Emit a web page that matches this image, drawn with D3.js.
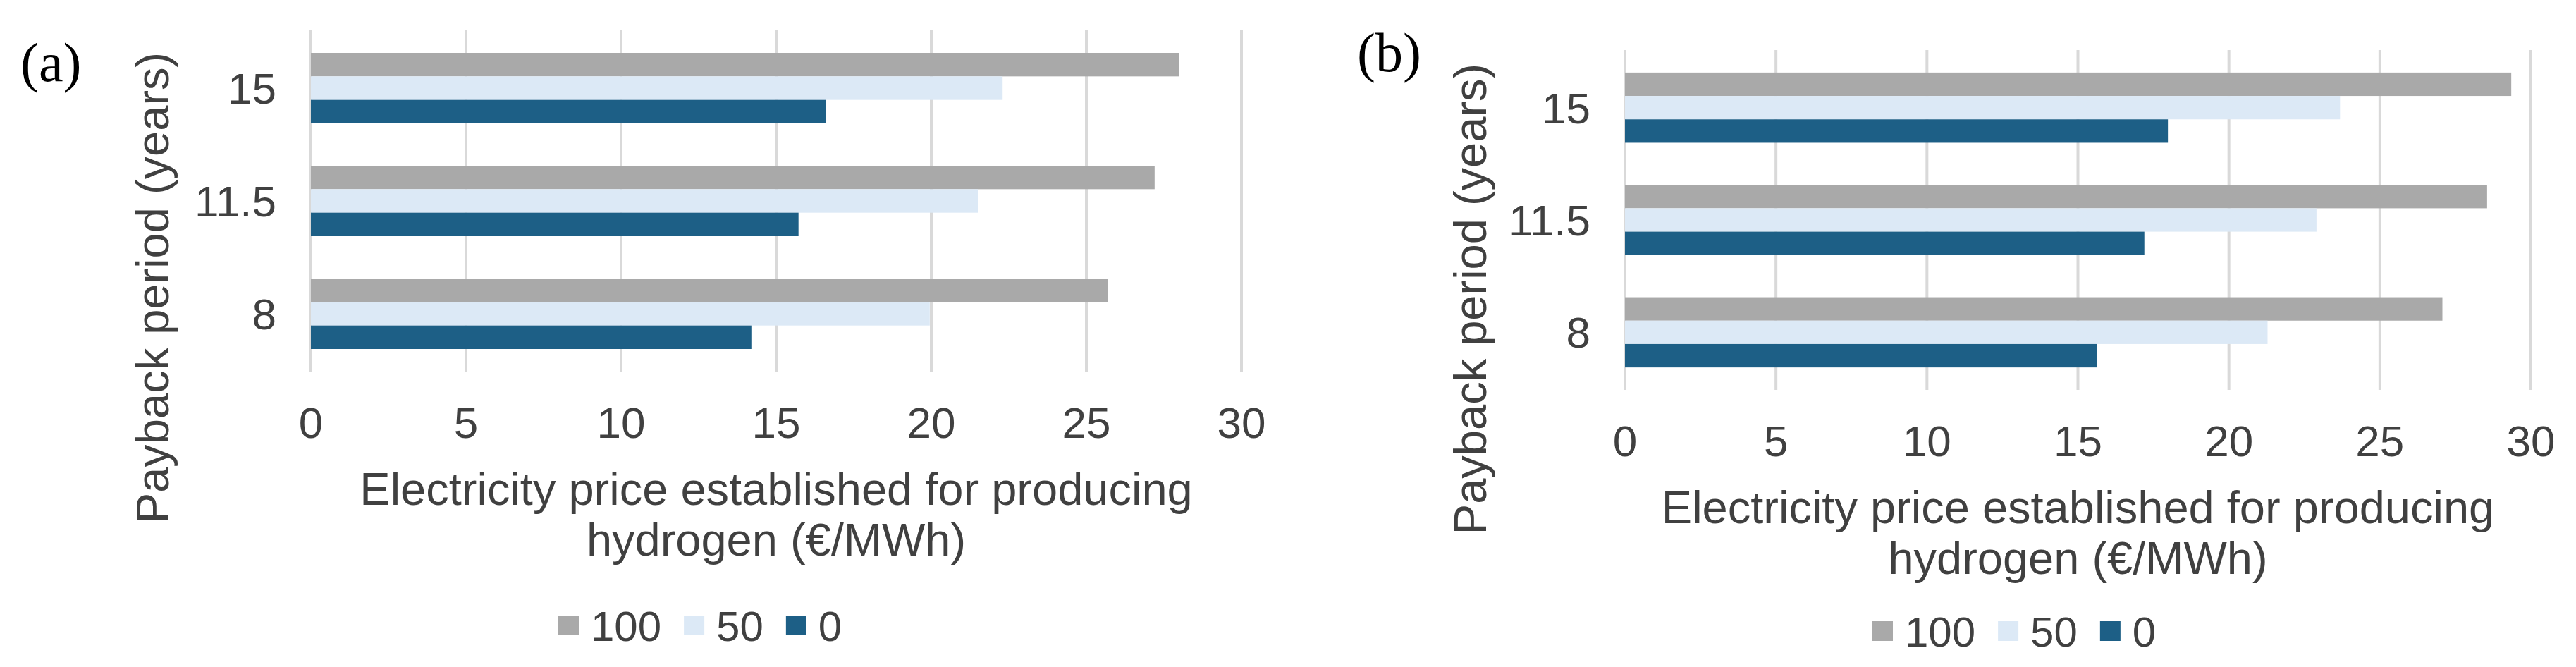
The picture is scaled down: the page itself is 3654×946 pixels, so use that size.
<!DOCTYPE html>
<html>
<head>
<meta charset="utf-8">
<script src="https://cdn.jsdelivr.net/npm/d3@7"></script>
<style>
  html, body { margin: 0; padding: 0; background: #ffffff; }
  svg { display: block; }
  text { font-family: "Liberation Sans", Arial, sans-serif; fill: #404040; }
</style>
</head>
<body>
<svg id="chart" width="3654" height="946"></svg>
<script>
// ---------------- DATA ----------------
// Payback period categories (top to bottom as drawn: 15, 11.5, 8)
const categories = ["15", "11.5", "8"];
// Legend series
const seriesNames = ["100", "50", "0"];
const seriesColors = ["#A9A9A9", "#DCE9F6", "#1D5F86"];
// Panel (a) values (€/MWh), ordered as categories
const panelA_s100 = [28.0, 27.2, 25.7];
const panelA_s50  = [22.3, 21.5, 19.95];
const panelA_s0   = [16.6, 15.72, 14.2];
// Panel (b) values (€/MWh), ordered as categories
const panelB_s100 = [29.35, 28.55, 27.07];
const panelB_s50  = [23.68, 22.9, 21.28];
const panelB_s0   = [17.98, 17.2, 15.62];
// X axis ticks
const xTicks = [0, 5, 10, 15, 20, 25, 30];
const xDomain = [0, 30];
const panelLabels = ["(a)", "(b)"];
const yTitle = "Payback period (years)";
const xTitleLines = ["Electricity price established for producing", "hydrogen (€/MWh)"];

// ---------------- DRAW ----------------
const svg = d3.select("#chart");

function drawPanel(cfg) {
  const g = svg.append("g");
  const x = d3.scaleLinear().domain(xDomain).range([cfg.left, cfg.right]);
  const y0 = d3.scaleBand().domain(categories).range([cfg.top, cfg.bottom])
    .paddingInner(0.375).paddingOuter(0.2);
  const y1 = d3.scaleBand().domain(seriesNames).range([0, y0.bandwidth()]);

  // gridlines
  g.append("g").selectAll("line").data(xTicks).join("line")
    .attr("x1", d => x(d)).attr("x2", d => x(d))
    .attr("y1", cfg.top).attr("y2", cfg.bottom)
    .attr("stroke", "#D9D9D9").attr("stroke-width", 4);

  // bars
  const rows = categories.map((c, i) => ({
    cat: c,
    vals: seriesNames.map((s, j) => ({ s, v: cfg.series[j][i], color: seriesColors[j] }))
  }));
  g.append("g").selectAll("g").data(rows).join("g")
    .attr("transform", d => `translate(0,${y0(d.cat)})`)
    .selectAll("rect").data(d => d.vals).join("rect")
    .attr("x", x(0))
    .attr("y", d => y1(d.s))
    .attr("width", d => x(d.v) - x(0))
    .attr("height", y1.bandwidth())
    .attr("fill", d => d.color);

  // x tick labels
  g.append("g").selectAll("text").data(xTicks).join("text")
    .attr("x", d => x(d)).attr("y", cfg.bottom + 94)
    .attr("text-anchor", "middle")
    .attr("font-size", 62)
    .text(d => d);

  // y tick labels
  g.append("g").selectAll("text").data(categories).join("text")
    .attr("x", cfg.left - 49)
    .attr("y", d => y0(d) + y0.bandwidth() / 2 + 22)
    .attr("text-anchor", "end")
    .attr("font-size", 62)
    .text(d => d);

  // y axis title
  g.append("text")
    .attr("transform", `translate(${cfg.yTitleX},${cfg.yTitleY}) rotate(-90)`)
    .attr("text-anchor", "middle")
    .attr("font-size", 65)
    .text(yTitle);

  // x axis title
  const cx = (cfg.left + cfg.right) / 2;
  g.append("g").selectAll("text").data(xTitleLines).join("text")
    .attr("x", cx)
    .attr("y", (d, i) => cfg.bottom + 189 + i * 72)
    .attr("text-anchor", "middle")
    .attr("font-size", 65)
    .text(d => d);

  // panel label
  g.append("text")
    .attr("x", cfg.labelX).attr("y", cfg.labelY)
    .style("font-family", "'Liberation Serif', 'Times New Roman', serif")
    .style("fill", "#000")
    .attr("font-size", 78)
    .text(cfg.label);

  // legend
  const lg = g.append("g");
  let lx = cfg.left + 351;
  seriesNames.forEach((s, j) => {
    lg.append("rect")
      .attr("x", lx).attr("y", cfg.legendY - 36)
      .attr("width", 29).attr("height", 28)
      .attr("fill", seriesColors[j]);
    const t = lg.append("text")
      .attr("x", lx + 46).attr("y", cfg.legendY)
      .attr("font-size", 60)
      .text(s);
    lx += 46 + t.node().getComputedTextLength() + 32;
  });
}

drawPanel({
  left: 441, right: 1761, top: 43, bottom: 527,
  series: [panelA_s100, panelA_s50, panelA_s0],
  yTitleX: 239, yTitleY: 408,
  labelX: 29, labelY: 115, label: panelLabels[0],
  legendY: 909
});

drawPanel({
  left: 2305, right: 3590, top: 71, bottom: 553,
  series: [panelB_s100, panelB_s50, panelB_s0],
  yTitleX: 2108, yTitleY: 424,
  labelX: 1925, labelY: 101, label: panelLabels[1],
  legendY: 917
});
</script>
</body>
</html>
